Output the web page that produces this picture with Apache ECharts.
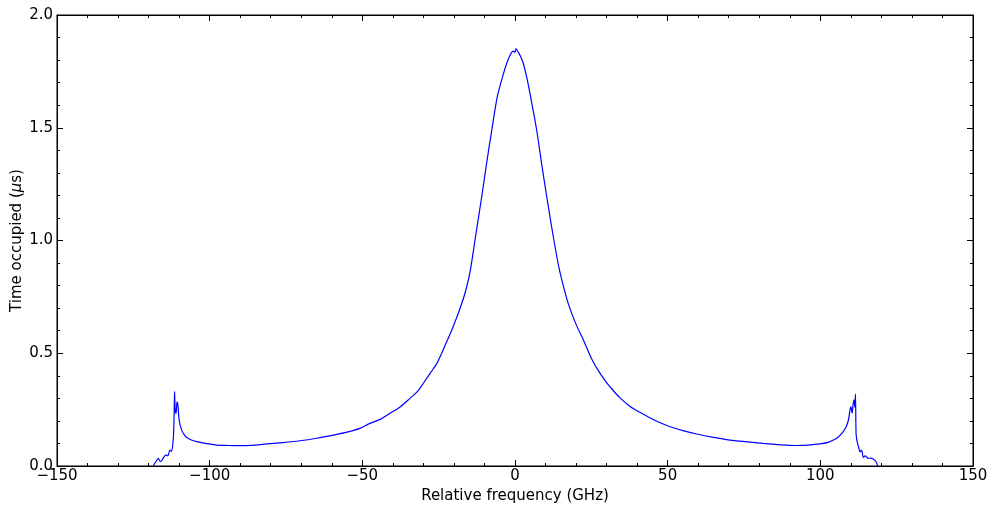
<!DOCTYPE html>
<html>
<head>
<meta charset="utf-8">
<script src="https://cdn.jsdelivr.net/npm/echarts@6/dist/echarts.min.js"></script>
<style>html,body{margin:0;padding:0;background:#fff}#c{width:995px;height:506px}</style>
</head>
<body>
<div id="c"></div>
<script>
// Relative frequency (GHz)
const freqs = [
  -118.5, -117.6, -116.8, -116.2, -115.7, -115.0, -114.3, -113.7, -113.0, -112.5,
  -112.1, -111.8, -111.6, -111.5, -111.3, -111.0, -110.7, -110.4, -110.0, -109.2,
  -108.3, -107.5, -106.0, -104.3, -101.0, -97.7, -94.0, -90.1, -85.0, -81.3,
  -76.0, -70.4, -65.0, -59.5, -55.0, -50.8, -47.5, -44.0, -40.9, -37.5,
  -34.4, -32.0, -30.0, -27.8, -25.6, -22.6, -20.7, -17.8, -16.0, -14.6, -12.9,
  -10.9, -9.3, -7.6, -5.8, -4.2, -2.7, -1.5, -0.6, 0.0, 0.3,
  1.0, 1.6, 2.7, 3.9, 5.1, 7.1, 8.7, 10.4, 12.5, 14.4,
  16.0, 17.5, 20.0, 22.4, 25.0, 27.6, 30.0, 32.0, 34.4, 37.7, 40.9,
  44.0, 47.0, 50.8, 55.0, 59.5, 65.0, 70.4, 76.0, 81.3, 87.0,
  92.3, 96.0, 99.9, 102.5, 104.3, 106.0, 107.5, 108.5, 109.2, 110.0,
  110.4, 110.7, 111.0, 111.3, 111.5, 111.7, 111.9, 112.2, 112.6, 113.0,
  113.5, 114.1, 114.7, 115.7, 116.5, 117.4, 118.2, 118.8
];
// Time occupied (µs)
const occupied = [
  0.000, 0.020, 0.034, 0.020, 0.024, 0.040, 0.049, 0.045, 0.071, 0.065,
  0.093, 0.150, 0.260, 0.330, 0.250, 0.234, 0.285, 0.270, 0.204, 0.160,
  0.138, 0.126, 0.115, 0.108, 0.099, 0.093, 0.091, 0.090, 0.093, 0.098,
  0.104, 0.112, 0.123, 0.137, 0.150, 0.167, 0.189, 0.208, 0.234, 0.263,
  0.300, 0.330, 0.367, 0.411, 0.455, 0.544, 0.603, 0.706, 0.785, 0.870, 1.020,
  1.194, 1.342, 1.490, 1.638, 1.720, 1.786, 1.825, 1.840, 1.835, 1.850,
  1.836, 1.822, 1.786, 1.720, 1.638, 1.490, 1.342, 1.194, 1.020, 0.880,
  0.790, 0.718, 0.628, 0.559, 0.478, 0.416, 0.370, 0.337, 0.302, 0.264, 0.238,
  0.215, 0.195, 0.174, 0.157, 0.142, 0.127, 0.115, 0.107, 0.100, 0.094,
  0.091, 0.093, 0.098, 0.105, 0.115, 0.130, 0.152, 0.175, 0.204, 0.263,
  0.234, 0.270, 0.293, 0.260, 0.319, 0.145, 0.120, 0.100, 0.080, 0.063,
  0.070, 0.038, 0.045, 0.034, 0.035, 0.030, 0.020, 0.000
];
const xTicks = [-150, -100, -50, 0, 50, 100, 150];
const yTicks = [0.0, 0.5, 1.0, 1.5, 2.0];

const data = freqs.map((f, i) => [f, occupied[i]]);
const font = 'DejaVu Sans';
const fs = 15;
const fmtX = v => (v < 0 ? '\u2212' + Math.abs(v) : String(v));
const fmtY = v => v.toFixed(1);

const commonAxis = {
  axisLine: { show: true, onZero: false, lineStyle: { color: '#000', width: 1 } },
  axisTick: { show: true, inside: true, length: 6, lineStyle: { color: '#000' } },
  minorTick: { show: true, splitNumber: 5, length: 3, lineStyle: { color: '#000' } },
  splitLine: { show: false },
  minorSplitLine: { show: false }
};

const chart = echarts.init(document.getElementById('c'), null, { renderer: 'canvas' });
chart.setOption({
  animation: false,
  backgroundColor: '#fff',
  grid: { left: 57, right: 22, top: 15, bottom: 40, containLabel: false, outerBoundsMode: 'none',
          show: true, borderColor: '#000', borderWidth: 1, backgroundColor: 'transparent' },
  xAxis: [
    Object.assign({}, commonAxis, {
      type: 'value', min: xTicks[0], max: xTicks[xTicks.length - 1], interval: 50, position: 'bottom',
      name: 'Relative frequency (GHz)', nameLocation: 'middle', nameGap: 23, nameMoveOverlap: false,
      nameTextStyle: { fontFamily: font, fontSize: fs, color: '#000' },
      axisLabel: { fontFamily: font, fontSize: fs, color: '#000', margin: 3, formatter: fmtX }
    }),
    Object.assign({}, commonAxis, {
      type: 'value', min: xTicks[0], max: xTicks[xTicks.length - 1], interval: 50, position: 'top',
      axisLabel: { show: false }
    })
  ],
  yAxis: [
    Object.assign({}, commonAxis, {
      type: 'value', min: yTicks[0], max: yTicks[yTicks.length - 1], interval: 0.5, position: 'left',
      name: '{a|Time occupied (}{b|\u03bc}{a|s)}', nameLocation: 'middle', nameGap: 32, nameRotate: 90,
      nameMoveOverlap: false,
      nameTextStyle: { fontFamily: font, fontSize: fs, color: '#000',
        rich: { a: { fontFamily: font, fontSize: fs, color: '#000' }, b: { fontFamily: font, fontSize: fs, fontStyle: 'italic', color: '#000' } } },
      axisLabel: { fontFamily: font, fontSize: fs, color: '#000', margin: 4, formatter: fmtY }
    }),
    Object.assign({}, commonAxis, {
      type: 'value', min: yTicks[0], max: yTicks[yTicks.length - 1], interval: 0.5, position: 'right',
      axisLabel: { show: false }
    })
  ],
  series: [{
    type: 'line', xAxisIndex: 0, yAxisIndex: 0, data: data,
    showSymbol: false, symbol: 'none', smooth: 0.3,
    lineStyle: { color: '#0000ff', width: 1.2 }
  }]
});
</script>
</body>
</html>
